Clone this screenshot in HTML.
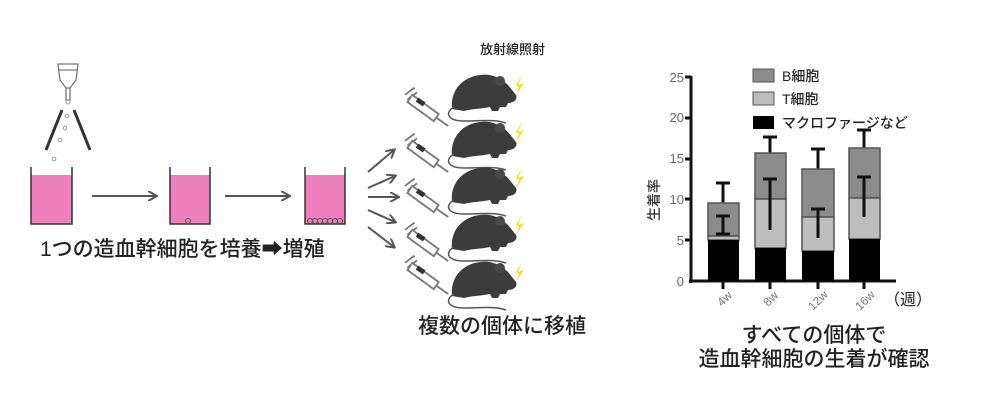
<!DOCTYPE html>
<html><head><meta charset="utf-8"><style>
body{margin:0;background:#fff;width:1000px;height:410px;overflow:hidden}
text{font-family:"Liberation Sans","Noto Sans CJK JP",sans-serif}
.t{font-weight:500}
</style></head><body>
<svg width="1000" height="410" viewBox="0 0 1000 410" xmlns="http://www.w3.org/2000/svg">
<defs>
<marker id="ah" markerWidth="10" markerHeight="10" refX="8" refY="5" orient="auto" markerUnits="userSpaceOnUse"><path d="M0,0 L9,5 L0,10" fill="none" stroke="#555" stroke-width="2"/></marker>
<g id="mouse">
<path d="M2,36 C0,18 12,4 30,2 C42,0 52,6 58,12 L66,22 C68,26 64,30 58,30 L56,34 L50,34 L48,38 L42,38 L40,34 C30,36 20,36 14,38 Z" fill="#3c3c3c"/>
<path d="M4,34 C-6,40 -2,48 14,48 C30,48 44,46 56,50" fill="none" stroke="#555" stroke-width="1.5"/>
<circle cx="50" cy="8" r="5" fill="#4a4a4a"/>
<path d="M66,12 L72,2 L68,12 L74,10 L66,22 L69,14 Z" fill="#f0e020"/>
</g>
<g id="syr" fill="none" stroke="#777" stroke-width="1.5">
<path d="M0,4 L8,-2 M2,8 L10,2"/>
<path d="M6,4 L28,20 L24,26 L2,10 Z" fill="#fff"/>
<path d="M10,8 L16,12" stroke="#333" stroke-width="4"/>
<path d="M26,23 L36,30"/>
</g>
</defs>

<!-- left -->
<g fill="none" stroke="#777" stroke-width="1.3">
<path d="M58,64 L78,64 L76,80 L70,88 L66,88 L60,80 Z"/>
<path d="M58,70 L78,70"/>
<path d="M66,88 L66,100 L70,100 L70,88"/>
</g>
<circle cx="68" cy="102" r="2" fill="none" stroke="#999"/>
<path d="M62,110 L46,150 M74,110 L90,150" stroke="#333" stroke-width="3"/>
<g fill="none" stroke="#999"><circle cx="67" cy="116" r="1.8"/><circle cx="65" cy="128" r="1.8"/><circle cx="60" cy="140" r="1.8"/><circle cx="54" cy="159" r="1.8"/></g>
<g stroke="#333" stroke-width="1.5">
<rect x="31" y="175" width="41" height="49" fill="#ee7fbd" stroke="none"/>
<path d="M31,167 L31,224 L72,224 L72,167" fill="none"/>
<rect x="170" y="175" width="40" height="49" fill="#ee7fbd" stroke="none"/>
<path d="M170,167 L170,224 L210,224 L210,167" fill="none"/>
<rect x="305" y="175" width="40" height="49" fill="#ee7fbd" stroke="none"/>
<path d="M305,167 L305,224 L345,224 L345,167" fill="none"/>
</g>
<circle cx="188" cy="221" r="2.5" fill="none" stroke="#555"/>
<g fill="none" stroke="#555"><circle cx="310" cy="221" r="2.5"/><circle cx="315" cy="221" r="2.5"/><circle cx="320" cy="221" r="2.5"/><circle cx="325" cy="221" r="2.5"/><circle cx="330" cy="221" r="2.5"/><circle cx="335" cy="221" r="2.5"/><circle cx="340" cy="221" r="2.5"/></g>
<g stroke="#555" stroke-width="2" marker-end="url(#ah)">
<line x1="92" y1="196" x2="156" y2="196"/>
<line x1="225" y1="196" x2="289" y2="196"/>
</g>
<text class="t" x="40" y="256" font-size="21" fill="#222">1つの造血幹細胞を培養➡増殖</text>

<!-- middle -->
<text class="t" x="480" y="54" font-size="13" fill="#222">放射線照射</text>
<use href="#mouse" x="450" y="73"/>
<use href="#mouse" x="450" y="120"/>
<use href="#mouse" x="450" y="166"/>
<use href="#mouse" x="450" y="213"/>
<use href="#mouse" x="450" y="260"/>
<use href="#syr" transform="translate(405,90) scale(1.2)"/>
<use href="#syr" transform="translate(405,136) scale(1.2)"/>
<use href="#syr" transform="translate(405,181) scale(1.2)"/>
<use href="#syr" transform="translate(405,225) scale(1.2)"/>
<use href="#syr" transform="translate(405,258) scale(1.2)"/>
<g stroke="#555" stroke-width="2" marker-end="url(#ah)">
<line x1="368" y1="172" x2="394" y2="150"/>
<line x1="368" y1="188" x2="395" y2="176"/>
<line x1="368" y1="197" x2="398" y2="197"/>
<line x1="368" y1="210" x2="395" y2="222"/>
<line x1="368" y1="227" x2="394" y2="247"/>
</g>
<text class="t" x="418" y="333" font-size="21" fill="#222">複数の個体に移植</text>

<!-- chart -->
<g font-size="13" fill="#666" text-anchor="end">
<text x="684" y="286">0</text><text x="684" y="245">5</text><text x="684" y="204">10</text><text x="684" y="163">15</text><text x="684" y="122">20</text><text x="684" y="82">25</text>
</g>
<g stroke="#111" stroke-width="3">
<line x1="691" y1="76" x2="691" y2="283"/>
<line x1="689" y1="281" x2="896" y2="281"/>
<line x1="685" y1="77" x2="691" y2="77"/><line x1="685" y1="118" x2="691" y2="118"/><line x1="685" y1="159" x2="691" y2="159"/><line x1="685" y1="199" x2="691" y2="199"/><line x1="685" y1="240" x2="691" y2="240"/>
<line x1="723" y1="281" x2="723" y2="289"/><line x1="770" y1="281" x2="770" y2="289"/><line x1="818" y1="281" x2="818" y2="289"/><line x1="864" y1="281" x2="864" y2="289"/>
</g>
<g stroke="#111" stroke-width="3">
<path d="M723,183 L723,281 M716,183 L730,183 M716,216 L730,216 M716,234 L730,234"/>
<path d="M770,137 L770,281 M763,137 L777,137 M763,179 L777,179 M763,230 L777,230"/>
<path d="M818,149 L818,281 M811,149 L825,149 M811,209 L825,209 M811,238 L825,238"/>
<path d="M864,130 L864,281 M857,130 L871,130 M857,177 L871,177 M857,217 L871,217"/>
</g>
<g stroke="#555" stroke-width="1.5">
<rect x="708" y="203" width="31" height="33" fill="#8c8c8c"/>
<rect x="708" y="236" width="31" height="4" fill="#bdbdbd"/>
<rect x="755" y="153" width="31" height="46" fill="#8c8c8c"/>
<rect x="755" y="199" width="31" height="49" fill="#bdbdbd"/>
<rect x="802" y="169" width="32" height="48" fill="#8c8c8c"/>
<rect x="802" y="217" width="32" height="34" fill="#bdbdbd"/>
<rect x="849" y="148" width="31" height="50" fill="#8c8c8c"/>
<rect x="849" y="198" width="31" height="41" fill="#bdbdbd"/>
</g>
<rect x="708" y="240" width="31" height="41" fill="#000"/>
<rect x="755" y="248" width="31" height="33" fill="#000"/>
<rect x="802" y="251" width="32" height="30" fill="#000"/>
<rect x="849" y="239" width="31" height="42" fill="#000"/>
<g stroke="#111" stroke-width="3">
<path d="M723,216 L723,234 M716,216 L730,216 M716,234 L730,234"/>
<path d="M770,179 L770,230 M763,179 L777,179"/>
<path d="M818,209 L818,238 M811,209 L825,209"/>
<path d="M864,177 L864,217 M857,177 L871,177"/>
</g>
<g font-size="12" fill="#777">
<text transform="translate(722,307) rotate(-45)">4w</text>
<text transform="translate(768,307) rotate(-45)">8w</text>
<text transform="translate(813,311) rotate(-45)">12w</text>
<text transform="translate(860,311) rotate(-45)">16w</text>
</g>
<text x="884" y="305" font-size="16" fill="#222">（週）</text>
<text class="t" transform="translate(659,200) rotate(-90)" font-size="14" fill="#333" text-anchor="middle">生着率</text>
<rect x="753" y="69" width="21" height="13" fill="#8c8c8c" stroke="#555"/>
<rect x="753" y="92" width="21" height="13" fill="#bdbdbd" stroke="#555"/>
<rect x="753" y="116" width="21" height="13" fill="#000"/>
<g font-size="14" fill="#222" class="t">
<text x="782" y="81">B細胞</text>
<text x="782" y="104">T細胞</text>
<text x="782" y="128">マクロファージなど</text>
</g>
<text class="t" x="814" y="342" font-size="21" fill="#222" text-anchor="middle">すべての個体で</text>
<text class="t" x="814" y="366" font-size="21" fill="#222" text-anchor="middle">造血幹細胞の生着が確認</text>
</svg>
</body></html>
